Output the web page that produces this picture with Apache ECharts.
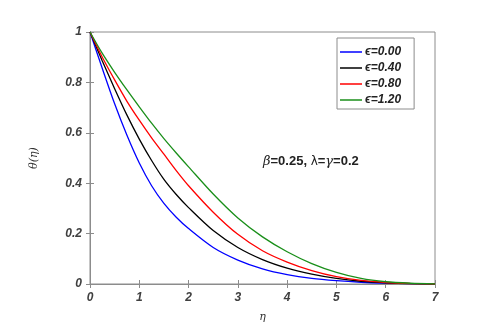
<!DOCTYPE html>
<html><head><meta charset="utf-8">
<script src="https://cdn.jsdelivr.net/npm/echarts@6/dist/echarts.min.js"></script>
<style>html,body{margin:0;padding:0;background:#fff}#c{width:496px;height:328px}</style>
</head><body><div id="c"></div>
<script>
const eta = [0, 0.25, 0.5, 0.75, 1, 1.25, 1.5, 1.75, 2, 2.5, 3, 3.5, 4, 4.5, 5, 5.5, 6, 6.5, 7];
const theta_e000 = [1, 0.855, 0.715, 0.59, 0.48, 0.39, 0.32, 0.265, 0.22, 0.145, 0.095, 0.06, 0.037, 0.022, 0.013, 0.007, 0.0035, 0.0012, 0];
const theta_e040 = [1, 0.885, 0.775, 0.67, 0.575, 0.49, 0.415, 0.355, 0.303, 0.212, 0.145, 0.097, 0.063, 0.039, 0.022, 0.011, 0.005, 0.0015, 0];
const theta_e080 = [1, 0.90, 0.81, 0.725, 0.65, 0.58, 0.515, 0.45, 0.39, 0.285, 0.197, 0.132, 0.087, 0.053, 0.029, 0.014, 0.006, 0.002, 0];
const theta_e120 = [1, 0.915, 0.84, 0.77, 0.703, 0.638, 0.577, 0.52, 0.465, 0.357, 0.262, 0.187, 0.128, 0.081, 0.046, 0.022, 0.009, 0.003, 0];
const seriesNames = ['ϵ=0.00', 'ϵ=0.40', 'ϵ=0.80', 'ϵ=1.20'];
const seriesColors = ['#0000ff', '#000000', '#ff0000', '#1a8f1a'];
const xTicks = [0, 1, 2, 3, 4, 5, 6, 7];
const yTicks = [0, 0.2, 0.4, 0.6, 0.8, 1];

const allData = [theta_e000, theta_e040, theta_e080, theta_e120];
const chart = echarts.init(document.getElementById('c'), null, {renderer: 'canvas'});
const axisColor = '#8c8c8c';
const lblStyle = {color: '#404040', fontFamily: 'Liberation Sans, Arial', fontWeight: 'bold', fontStyle: 'italic', fontSize: 12};
chart.setOption({
  animation: false,
  backgroundColor: '#fff',
  grid: {left: 90, right: 61, top: 32, bottom: 44, show: true, borderColor: axisColor, borderWidth: 1},
  legend: {
    orient: 'vertical', left: 337, top: 38, padding: [8, 13, 3, 3],
    backgroundColor: '#fff', borderColor: axisColor, borderWidth: 1,
    icon: 'rect', itemWidth: 22, itemHeight: 1.5, itemGap: 4,
    textStyle: {color: '#222', fontFamily: 'Liberation Sans, Arial', fontWeight: 'bold', fontStyle: 'italic', fontSize: 12, padding: [0, 0, 0, -2]},
    data: seriesNames
  },
  xAxis: [{
    type: 'value', min: 0, max: 7, interval: 1,
    name: 'η', nameLocation: 'middle', nameGap: 28,
    nameTextStyle: {fontFamily: 'DejaVu Serif', fontStyle: 'italic', fontSize: 11, color: '#333'},
    axisLine: {show: true, lineStyle: {color: axisColor}},
    axisTick: {show: true, inside: true, length: 4, lineStyle: {color: axisColor}},
    axisLabel: Object.assign({margin: 8}, lblStyle),
    splitLine: {show: false}
  }, {
    type: 'value', min: 0, max: 7, interval: 1, position: 'top',
    axisLine: {show: true, lineStyle: {color: axisColor}},
    axisTick: {show: true, inside: true, length: 4, lineStyle: {color: axisColor}},
    axisLabel: {show: false}, splitLine: {show: false}
  }],
  yAxis: [{
    type: 'value', min: 0, max: 1, interval: 0.2,
    name: 'θ(η)', nameLocation: 'middle', nameGap: 50, nameRotate: 90,
    nameTextStyle: {fontFamily: 'DejaVu Serif', fontStyle: 'italic', fontSize: 11, color: '#333'},
    axisLine: {show: true, lineStyle: {color: axisColor}},
    axisTick: {show: true, inside: true, length: 4, lineStyle: {color: axisColor}},
    axisLabel: Object.assign({margin: 8}, lblStyle),
    splitLine: {show: false}
  }, {
    type: 'value', min: 0, max: 1, interval: 0.2, position: 'right',
    axisLine: {show: true, lineStyle: {color: axisColor}},
    axisTick: {show: true, inside: true, length: 4, lineStyle: {color: axisColor}},
    axisLabel: {show: false}, splitLine: {show: false}
  }],
  graphic: [{
    type: 'text', left: 263, top: 155,
    style: {
      rich: {
        g: {fontFamily: 'DejaVu Serif', fontStyle: 'italic', fontSize: 13, fill: '#222'},
        b: {fontFamily: 'Liberation Sans, Arial', fontWeight: 'bold', fontSize: 13, fill: '#222'},
        n: {fontFamily: 'DejaVu Sans', fontSize: 12, fill: '#222'}
      },
      text: '{g|β}{b|=0.25, }{n|λ}{b|=}{g|γ}{b|=0.2}'
    }
  }],
  series: allData.map((d, i) => ({
    name: seriesNames[i], type: 'line', smooth: 0.3, symbol: 'none',
    color: seriesColors[i], lineStyle: {width: 1.3, color: seriesColors[i]},
    data: eta.map((x, k) => [x, d[k]])
  }))
});
</script></body></html>
